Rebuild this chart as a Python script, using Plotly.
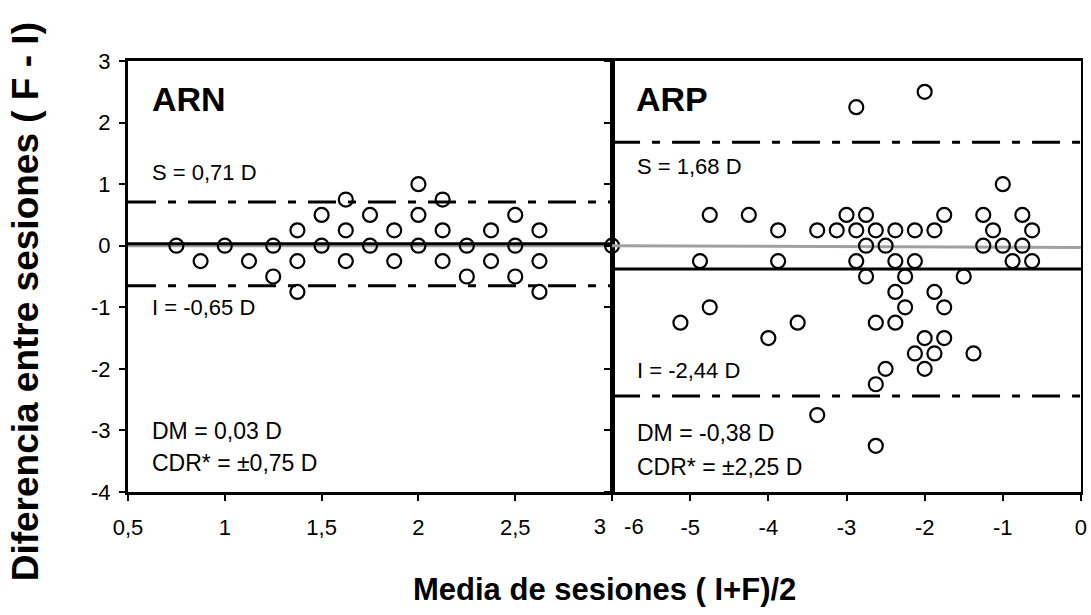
import plotly.graph_objects as go

# ---------------- data ----------------
# ARN panel (left)
arn_x = [0.75, 0.875, 1.0, 1.125, 1.25, 1.25, 1.375, 1.375, 1.375, 1.5, 1.5,
         1.625, 1.625, 1.625, 1.75, 1.75, 1.875, 1.875, 2.0, 2.0, 2.0,
         2.125, 2.125, 2.125, 2.25, 2.25, 2.375, 2.375, 2.5, 2.5, 2.5,
         2.625, 2.625, 2.625, 3.0]
arn_y = [0, -0.25, 0, -0.25, 0, -0.5, 0.25, -0.25, -0.75, 0.5, 0,
         0.75, 0.25, -0.25, 0.5, 0, 0.25, -0.25, 1.0, 0.5, 0,
         0.75, 0.25, -0.25, 0, -0.5, 0.25, -0.25, 0.5, 0, -0.5,
         0.25, -0.25, -0.75, 0]
arn_mean = 0.03
arn_upper = 0.71
arn_lower = -0.65
arn_trend_x = [0.5, 3.0]
arn_trend_y = [0.0, 0.0]

# ARP panel (right)
arp_x = [-2.875, -2.0, -1.0, -4.75, -4.25, -3.875, -3.375, -3.125, -3.0, -2.875,
         -2.75, -2.625, -2.75, -2.5, -2.375, -2.125, -1.875, -1.75, -1.25, -1.125,
         -1.25, -1.0, -0.75, -0.625, -0.75, -0.875, -0.625, -4.875, -3.875, -2.875,
         -2.375, -2.125, -2.75, -2.25, -1.5, -2.375, -1.875, -2.25, -1.75, -4.75,
         -5.125, -3.625, -2.625, -2.375, -4.0, -2.0, -1.75, -2.125, -1.875, -1.375,
         -2.5, -2.0, -2.625, -3.375, -2.625]
arp_y = [2.25, 2.5, 1.0, 0.5, 0.5, 0.25, 0.25, 0.25, 0.5, 0.25,
         0.5, 0.25, 0.0, 0.0, 0.25, 0.25, 0.25, 0.5, 0.5, 0.25,
         0.0, 0.0, 0.5, 0.25, 0.0, -0.25, -0.25, -0.25, -0.25, -0.25,
         -0.25, -0.25, -0.5, -0.5, -0.5, -0.75, -0.75, -1.0, -1.0, -1.0,
         -1.25, -1.25, -1.25, -1.25, -1.5, -1.5, -1.5, -1.75, -1.75, -1.75,
         -2.0, -2.0, -2.25, -2.75, -3.25]
arp_mean = -0.38
arp_upper = 1.68
arp_lower = -2.44
arp_trend_x = [-6.0, 0.0]
arp_trend_y = [0.0, -0.03]

# tick labels
arn_tickvals = [0.5, 1, 1.5, 2, 2.5, 3]
arn_ticktext = ["0,5", "1", "1,5", "2", "2,5", ""]
arn_edge_val = [3]
arn_edge_text = ["3"]
arp_tickvals = [-6, -5, -4, -3, -2, -1, 0]
arp_ticktext = ["", "-5", "-4", "-3", "-2", "-1", "0"]
arp_edge_val = [-6]
arp_edge_text = ["-6"]
y_tickvals = [3, 2, 1, 0, -1, -2, -3, -4]
y_ticktext = ["3", "2", "1", "0", "-1", "-2", "-3", "-4"]

FONT = "Arial, 'Liberation Sans', sans-serif"
DASHDOT = "28px,12px,8px,12px"
TICKFONT = dict(family=FONT, size=22, color="black")

fig = go.Figure()


def add_panel(xa, ya, xs, ys, mean, upper, lower, tx, ty, xr):
    fig.add_trace(go.Scatter(x=tx, y=ty, mode="lines",
                             line=dict(color="#a0a0a0", width=3),
                             xaxis=xa, yaxis=ya, showlegend=False, hoverinfo="skip"))
    for val, dash in ((mean, "solid"), (upper, DASHDOT), (lower, DASHDOT)):
        fig.add_trace(go.Scatter(x=xr, y=[val, val], mode="lines",
                                 line=dict(color="black", width=3, dash=dash),
                                 xaxis=xa, yaxis=ya, showlegend=False, hoverinfo="skip"))
    fig.add_trace(go.Scatter(x=xs, y=ys, mode="markers",
                             marker=dict(symbol="circle-open", size=14, color="black",
                                         line=dict(width=2.2, color="black")),
                             xaxis=xa, yaxis=ya, showlegend=False, cliponaxis=False))


add_panel("x", "y", arn_x, arn_y, arn_mean, arn_upper, arn_lower,
          arn_trend_x, arn_trend_y, [0.5, 3.0])
add_panel("x2", "y2", arp_x, arp_y, arp_mean, arp_upper, arp_lower,
          arp_trend_x, arp_trend_y, [-6.0, 0.0])
# empty traces so the overlay label axes exist
fig.add_trace(go.Scatter(x=[], y=[], xaxis="x3", yaxis="y", showlegend=False))
fig.add_trace(go.Scatter(x=[], y=[], xaxis="x4", yaxis="y2", showlegend=False))

ydom = [0.2, 0.9008]
x1dom = [0.1173, 0.561]
x2dom = [0.561, 0.9908]

common_x = dict(showgrid=False, zeroline=False, showline=True, linecolor="black",
                linewidth=3, mirror=True, ticks="outside", ticklen=6, tickwidth=1.5,
                tickcolor="black", tickfont=TICKFONT, ticklabelstandoff=8)
edge_x = dict(showgrid=False, zeroline=False, showline=False, ticks="",
              tickfont=TICKFONT, ticklabelstandoff=19)

fig.update_layout(
    width=1091, height=615, autosize=False,
    margin=dict(l=0, r=0, t=0, b=0, autoexpand=False),
    paper_bgcolor="white", plot_bgcolor="white",
    xaxis=dict(domain=x1dom, range=[0.5, 3], tickvals=arn_tickvals,
               ticktext=arn_ticktext, anchor="y", **common_x),
    xaxis2=dict(domain=x2dom, range=[-6, 0], tickvals=arp_tickvals,
                ticktext=arp_ticktext, anchor="y2", **common_x),
    xaxis3=dict(overlaying="x", anchor="y", side="bottom", range=[0.5, 3],
                tickvals=arn_edge_val, ticktext=arn_edge_text,
                ticklabelposition="outside left", ticklabelshift=-6, **edge_x),
    xaxis4=dict(overlaying="x2", anchor="y2", side="bottom", range=[-6, 0],
                tickvals=arp_edge_val, ticktext=arp_edge_text,
                ticklabelposition="outside right", ticklabelshift=12, **edge_x),
    yaxis=dict(domain=ydom, range=[-4, 3], tickvals=y_tickvals, ticktext=y_ticktext,
               anchor="x", showgrid=False, zeroline=False, showline=True,
               linecolor="black", linewidth=3, mirror=True, ticks="outside",
               ticklen=6, tickwidth=1.5, tickcolor="black", tickfont=TICKFONT,
               ticklabelstandoff=4),
    yaxis2=dict(domain=ydom, range=[-4, 3], tickvals=y_tickvals, anchor="x2",
                showgrid=False, zeroline=False, showline=True, linecolor="black",
                linewidth=2, mirror=True, ticks="outside", ticklen=6, tickwidth=1.5,
                tickcolor="black", showticklabels=False),
    font=dict(family=FONT, color="black"),
)

notes = [
    ("x domain", "y domain", 0.045, 0.912, "<b>ARN</b>", 34),
    ("x domain", "y domain", 0.046, 0.741, "S = 0,71 D", 22),
    ("x domain", "y domain", 0.046, 0.427, "I = -0,65 D", 22),
    ("x domain", "y domain", 0.046, 0.142, "DM = 0,03 D", 23),
    ("x domain", "y domain", 0.046, 0.068, "CDR* = ±0,75 D", 23),
    ("x2 domain", "y2 domain", 0.047, 0.912, "<b>ARP</b>", 34),
    ("x2 domain", "y2 domain", 0.049, 0.755, "S = 1,68 D", 22),
    ("x2 domain", "y2 domain", 0.049, 0.283, "I = -2,44 D", 22),
    ("x2 domain", "y2 domain", 0.049, 0.137, "DM = -0,38 D", 23),
    ("x2 domain", "y2 domain", 0.049, 0.059, "CDR* = ±2,25 D", 23),
]
for xref, yref, x, y, txt, sz in notes:
    fig.add_annotation(xref=xref, yref=yref, x=x, y=y, text=txt, showarrow=False,
                       xanchor="left", yanchor="middle",
                       font=dict(family=FONT, size=sz, color="black"))

fig.add_annotation(xref="paper", yref="paper", x=0.5545, y=0.041,
                   text="<b>Media de sesiones ( I+F)/2</b>", showarrow=False,
                   xanchor="center", yanchor="middle",
                   font=dict(family=FONT, size=31, color="black"))
fig.add_annotation(xref="paper", yref="paper", x=0.0229, y=0.51,
                   text="<b>Diferencia entre sesiones ( F - I)</b>", showarrow=False,
                   textangle=-90, xanchor="center", yanchor="middle",
                   font=dict(family=FONT, size=37, color="black"))

fig.write_html("out.html")
